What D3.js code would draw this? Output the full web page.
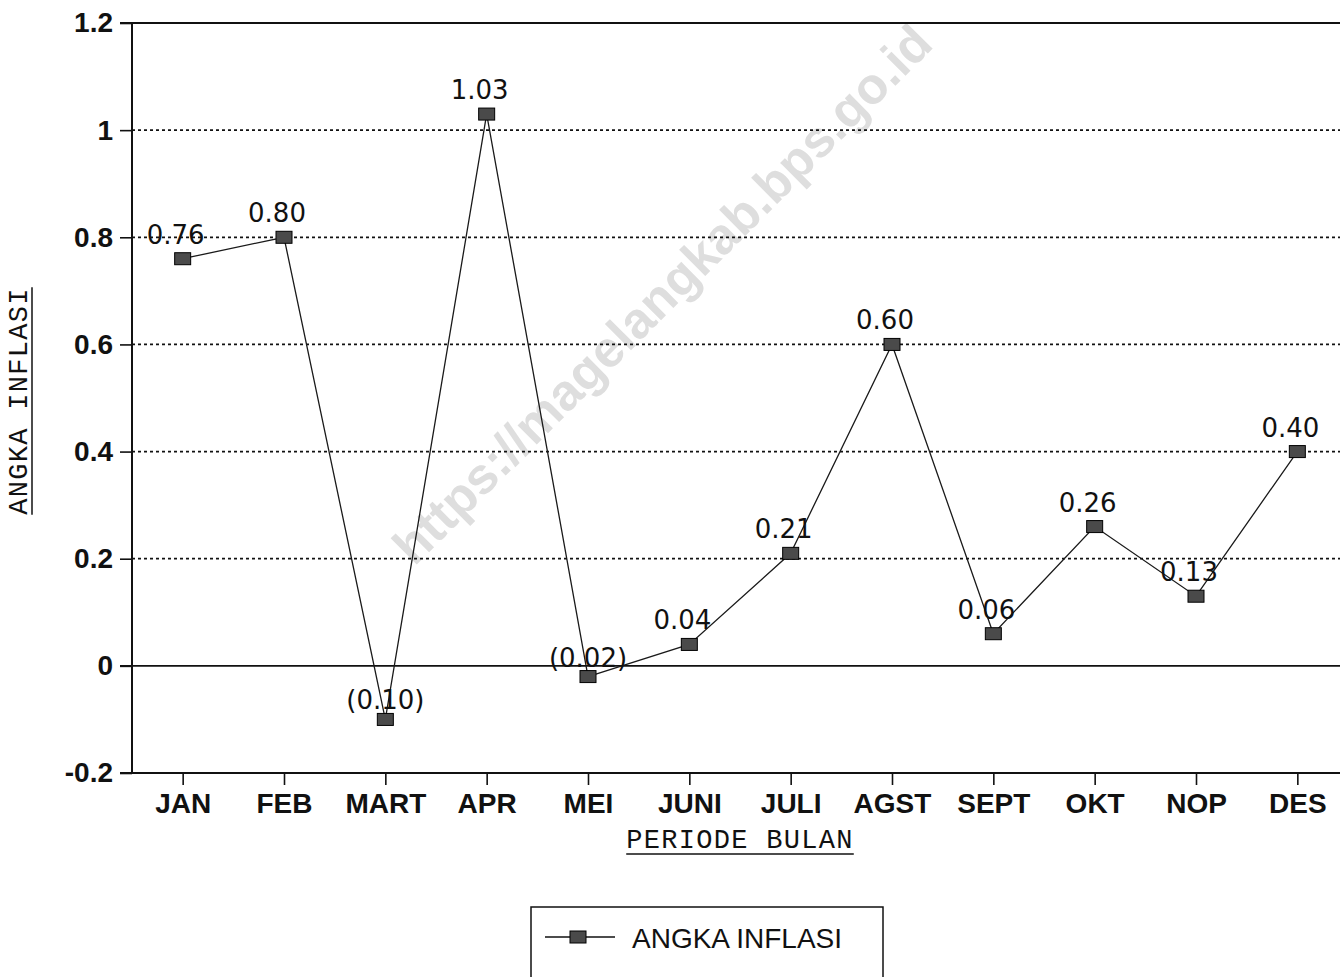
<!DOCTYPE html>
<html>
<head>
<meta charset="utf-8">
<script src="https://cdn.jsdelivr.net/npm/d3@7"></script>
<style>
  html, body { margin: 0; padding: 0; background: #fff; }
  svg { display: block; }
  .tick text { font-family: "Liberation Sans", Arial, sans-serif; font-weight: bold; font-size: 28px; fill: #111; }
  .tick line { stroke: #111; stroke-width: 1.6; }
  .title { font-family: "Liberation Mono", "Courier New", monospace; font-size: 27px; letter-spacing: 1.3px; fill: #111; }
  .value { font-family: "DejaVu Sans", sans-serif; font-size: 26px; fill: #111; }
</style>
</head>
<body>
<svg id="chart" width="1340" height="977"></svg>
<script>
// month names on the x axis
var months = ['JAN', 'FEB', 'MART', 'APR', 'MEI', 'JUNI', 'JULI', 'AGST', 'SEPT', 'OKT', 'NOP', 'DES'];
// monthly inflation (%)
var inflasi = [0.76, 0.80, -0.10, 1.03, -0.02, 0.04, 0.21, 0.60, 0.06, 0.26, 0.13, 0.40];
// y axis ticks
var yTicks = [-0.2, 0, 0.2, 0.4, 0.6, 0.8, 1, 1.2];

var svg = d3.select('#chart');
var plotLeft = 132, plotTop = 23, plotBottom = 773, plotRight = 1348;

var x = d3.scalePoint().domain(months).range([plotLeft, plotRight]).padding(0.5);
var y = d3.scaleLinear().domain([-0.2, 1.2]).range([plotBottom, plotTop]);

function solid(d) { return d === 0 || d === 1.2 || d === -0.2; }

// watermark, sits under everything
svg.append('text')
  .attr('transform', 'translate(662,294) rotate(-45)')
  .attr('text-anchor', 'middle')
  .attr('dy', '0.35em')
  .style('font-family', '"Liberation Sans", Arial, sans-serif')
  .style('font-weight', 'bold')
  .style('font-size', '51px')
  .style('fill', '#dedede')
  .text('https://magelangkab.bps.go.id');

// gridlines: dotted, except zero and the top/bottom frame
svg.append('g').selectAll('line.grid')
  .data(yTicks)
  .enter().append('line')
  .attr('class', 'grid')
  .attr('x1', function(d) { return solid(d) ? plotLeft - 12 : plotLeft; })
  .attr('x2', 1340)
  .attr('y1', function(d) { return y(d); })
  .attr('y2', function(d) { return y(d); })
  .attr('stroke', '#111')
  .attr('stroke-width', 1.8)
  .attr('stroke-dasharray', function(d) { return solid(d) ? null : '3 3'; });

// axes
var yAxis = d3.axisLeft(y)
  .tickValues(yTicks)
  .tickSize(12)
  .tickPadding(7)
  .tickFormat(function(d) { return String(+d.toFixed(1)); });

svg.append('g')
  .attr('transform', 'translate(' + plotLeft + ',0)')
  .call(yAxis)
  .call(function(g) { g.select('.domain').remove(); });

var xAxis = d3.axisBottom(x).tickSize(12).tickPadding(8);

svg.append('g')
  .attr('transform', 'translate(0,' + plotBottom + ')')
  .call(xAxis)
  .call(function(g) { g.select('.domain').remove(); });

svg.append('line')
  .attr('x1', plotLeft).attr('x2', plotLeft)
  .attr('y1', plotTop).attr('y2', plotBottom)
  .attr('stroke', '#111').attr('stroke-width', 2);

// series line
var line = d3.line()
  .x(function(d, i) { return x(months[i]); })
  .y(function(d) { return y(d); });

svg.append('path')
  .datum(inflasi)
  .attr('d', line)
  .attr('fill', 'none')
  .attr('stroke', '#1a1a1a')
  .attr('stroke-width', 1.3);

// markers
svg.append('g').selectAll('rect.marker')
  .data(inflasi)
  .enter().append('rect')
  .attr('class', 'marker')
  .attr('x', function(d, i) { return x(months[i]) - 8; })
  .attr('y', function(d) { return y(d) - 6; })
  .attr('width', 16)
  .attr('height', 12)
  .attr('fill', '#4a4a4a')
  .attr('stroke', '#000')
  .attr('stroke-width', 1);

// value labels, negatives in brackets
svg.append('g').selectAll('text.value')
  .data(inflasi)
  .enter().append('text')
  .attr('class', 'value')
  .attr('text-anchor', 'middle')
  .attr('x', function(d, i) { return x(months[i]) + (d < 0 ? 0 : -7); })
  .attr('y', function(d) { return y(d) + (d < 0 ? -10 : -15); })
  .text(function(d) { return d < 0 ? '(' + Math.abs(d).toFixed(2) + ')' : d.toFixed(2); });

// axis titles, underlined
var xt = svg.append('text')
  .attr('class', 'title')
  .attr('x', 740).attr('y', 848)
  .attr('text-anchor', 'middle')
  .text('PERIODE BULAN');
var xb = xt.node().getBBox();
svg.append('line')
  .attr('x1', xb.x).attr('x2', xb.x + xb.width)
  .attr('y1', 854).attr('y2', 854)
  .attr('stroke', '#111').attr('stroke-width', 1.5);

var yg = svg.append('g').attr('transform', 'translate(27,401) rotate(-90)');
var yt = yg.append('text')
  .attr('class', 'title')
  .attr('text-anchor', 'middle')
  .text('ANGKA INFLASI');
var yb = yt.node().getBBox();
yg.append('line')
  .attr('x1', yb.x).attr('x2', yb.x + yb.width)
  .attr('y1', 5).attr('y2', 5)
  .attr('stroke', '#111').attr('stroke-width', 1.5);

// legend
var legend = svg.append('g').attr('transform', 'translate(531,907)');
legend.append('rect')
  .attr('width', 352).attr('height', 90)
  .attr('fill', 'none').attr('stroke', '#111').attr('stroke-width', 1.5);
legend.append('line')
  .attr('x1', 14).attr('x2', 84).attr('y1', 30).attr('y2', 30)
  .attr('stroke', '#111').attr('stroke-width', 1.5);
legend.append('rect')
  .attr('x', 39).attr('y', 24).attr('width', 16).attr('height', 12)
  .attr('fill', '#4a4a4a').attr('stroke', '#000');
legend.append('text')
  .attr('x', 101).attr('y', 41)
  .style('font-family', '"Liberation Sans", Arial, sans-serif')
  .style('font-size', '28px')
  .style('fill', '#111')
  .text('ANGKA INFLASI');
</script>
</body>
</html>
